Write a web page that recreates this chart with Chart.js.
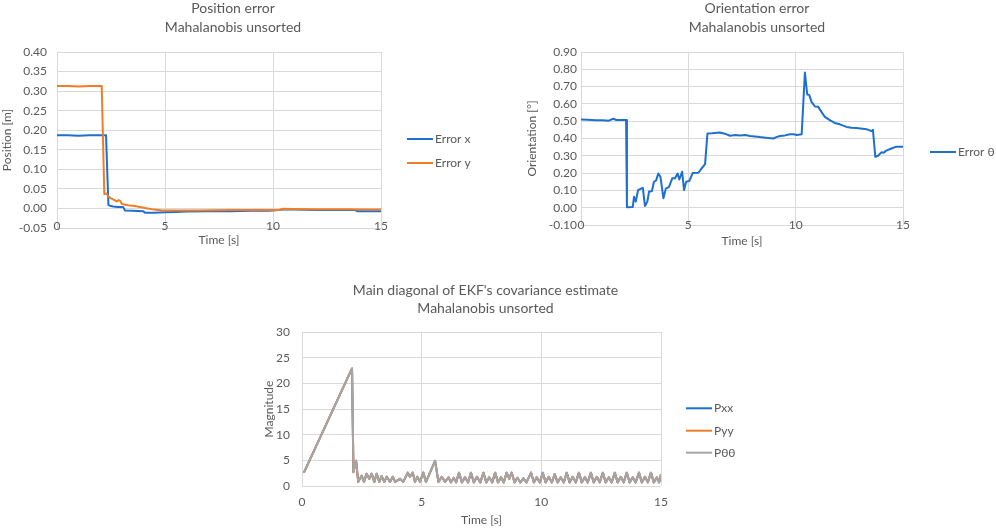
<!DOCTYPE html>
<html>
<head>
<meta charset="utf-8">
<title>Mahalanobis unsorted</title>
<script src="https://cdn.jsdelivr.net/npm/chart.js@4.4.1/dist/chart.umd.min.js"></script>
<style>
  html, body { margin: 0; padding: 0; background: #fff; }
  body { width: 996px; height: 528px; position: relative; overflow: hidden; }
  canvas { position: absolute; }
</style>
</head>
<body>
<canvas id="posChart" width="490" height="260" style="left:0;top:0"></canvas>
<canvas id="oriChart" width="496" height="260" style="left:500px;top:0"></canvas>
<canvas id="covChart" width="520" height="258" style="left:240px;top:270px"></canvas>
<script>
// Position error [m]
const errXTime = [0, 0.5, 1.0, 1.5, 2.0, 2.27, 2.38, 2.45, 2.6, 2.8, 3.06, 3.15, 3.5, 4.0, 4.07, 4.5, 5.0, 5.5, 6.0, 7.0, 8.0, 9.0, 9.77, 10.0, 10.5, 11.0, 12.0, 13.0, 13.8, 13.9, 14.5, 15.0];
const errX     = [0.187, 0.187, 0.186, 0.187, 0.187, 0.187, 0.009, 0.007, 0.005, 0.004, 0.004, -0.005, -0.006, -0.007, -0.011, -0.011, -0.010, -0.009, -0.008, -0.007, -0.007, -0.006, -0.006, -0.005, -0.003, -0.003, -0.004, -0.004, -0.004, -0.007, -0.007, -0.007];

const errYTime = [0, 0.5, 1.0, 1.5, 2.0, 2.07, 2.19, 2.3, 2.38, 2.5, 2.65, 2.76, 2.85, 2.92, 3.0, 3.1, 3.3, 3.6, 3.9, 4.07, 4.5, 4.9, 5.5, 6.5, 8.0, 9.5, 10.3, 10.45, 11.5, 12.5, 13.5, 14.0, 15.0];
const errY     = [0.313, 0.313, 0.312, 0.313, 0.313, 0.313, 0.037, 0.038, 0.030, 0.026, 0.022, 0.018, 0.021, 0.020, 0.012, 0.010, 0.008, 0.006, 0.003, 0.001, -0.003, -0.005, -0.005, -0.005, -0.004, -0.004, -0.004, -0.001, -0.002, -0.002, -0.002, -0.003, -0.003];

// Orientation error [°]
const thetaTime = [
  0.00, 0.30, 0.70, 1.00, 1.30, 1.50, 1.65, 2.10, 2.14, 2.41,
  2.47, 2.55, 2.66, 2.82, 2.88, 2.98, 3.09, 3.17, 3.30, 3.40,
  3.50, 3.60, 3.70, 3.84, 3.95, 4.10, 4.25, 4.38, 4.50, 4.58,
  4.71, 4.80, 4.90, 5.05, 5.20, 5.47, 5.62, 5.78, 5.89, 6.10,
  6.47, 6.70, 6.94, 7.20, 7.41, 7.65, 7.87, 8.10, 8.34, 8.60,
  8.96, 9.10, 9.27, 9.50, 9.74, 9.90, 10.05, 10.28, 10.43, 10.54,
  10.63, 10.74, 10.90, 11.05, 11.20, 11.36, 11.59, 11.82, 12.06, 12.37,
  12.60, 12.83, 13.30, 13.53, 13.60, 13.71, 13.84, 13.99, 14.10, 14.22,
  14.46, 14.69, 15.00
];
const thetaErr = [
  0.510, 0.508, 0.505, 0.505, 0.503, 0.514, 0.507, 0.507, 0.002, 0.004,
  0.063, 0.035, 0.102, 0.112, 0.115, 0.010, 0.035, 0.093, 0.095, 0.150,
  0.158, 0.198, 0.179, 0.054, 0.110, 0.120, 0.170, 0.170, 0.198, 0.163,
  0.208, 0.102, 0.150, 0.155, 0.200, 0.202, 0.227, 0.252, 0.429, 0.430,
  0.435, 0.428, 0.416, 0.420, 0.418, 0.420, 0.414, 0.412, 0.408, 0.405,
  0.400, 0.408, 0.414, 0.418, 0.425, 0.424, 0.420, 0.425, 0.781, 0.654,
  0.652, 0.612, 0.585, 0.583, 0.554, 0.525, 0.506, 0.490, 0.482, 0.467,
  0.462, 0.461, 0.454, 0.443, 0.450, 0.294, 0.300, 0.320, 0.318, 0.330,
  0.342, 0.353, 0.353
];

// EKF covariance diagonal
const covTime = [
  0.08, 2.09, 2.15, 2.26, 2.35, 2.49, 2.59, 2.70, 2.81, 2.91,
  3.02, 3.12, 3.23, 3.33, 3.44, 3.54, 3.68, 3.79, 3.89, 4.09,
  4.23, 4.42, 4.51, 4.63, 4.72, 4.82, 4.93, 5.07, 5.18, 5.56,
  5.70, 5.84, 5.98, 6.12, 6.22, 6.34, 6.44, 6.56, 6.68, 6.81,
  6.94, 7.06, 7.18, 7.31, 7.45, 7.58, 7.70, 7.82, 7.95, 8.07,
  8.19, 8.31, 8.43, 8.55, 8.66, 8.76, 8.88, 9.00, 9.12, 9.25,
  9.38, 9.57, 9.69, 9.81, 9.94, 10.06, 10.18, 10.31, 10.44, 10.56,
  10.68, 10.81, 10.94, 11.06, 11.18, 11.31, 11.44, 11.57, 11.69, 11.82,
  11.94, 12.07, 12.19, 12.32, 12.44, 12.57, 12.69, 12.82, 12.94, 13.07,
  13.19, 13.32, 13.44, 13.57, 13.69, 13.82, 13.94, 14.08, 14.20, 14.33,
  14.45, 14.58, 14.70, 14.83, 14.92, 15.00
];
const pTheta = [
  2.6, 22.9, 2.7, 4.9, 0.8, 2.0, 0.8, 2.4, 1.4, 2.4,
  0.8, 2.4, 0.8, 1.9, 0.8, 1.8, 0.8, 1.8, 0.8, 1.4,
  0.8, 2.6, 1.8, 2.6, 0.8, 1.8, 0.8, 2.6, 0.8, 4.9,
  0.8, 1.8, 0.8, 1.7, 0.7, 1.6, 0.7, 2.6, 0.7, 1.7,
  0.7, 2.6, 0.7, 1.8, 0.7, 2.6, 0.7, 1.7, 0.7, 2.6,
  0.7, 1.7, 0.7, 2.6, 1.4, 2.6, 0.7, 1.6, 0.7, 1.5,
  0.7, 2.6, 0.7, 1.7, 0.7, 2.6, 0.7, 1.8, 0.7, 2.3,
  0.7, 1.7, 0.7, 2.6, 0.7, 1.8, 0.7, 2.6, 0.7, 1.7,
  0.7, 2.6, 0.7, 1.8, 0.7, 2.6, 0.7, 1.7, 0.7, 2.6,
  0.7, 1.8, 0.7, 2.6, 0.7, 1.7, 0.7, 2.6, 0.7, 1.8,
  0.7, 2.6, 0.7, 1.7, 0.7, 2.3
];
// Pxx and Pyy are hidden under the grey Pθθ line in the original
const pXX = pTheta;
const pYY = pTheta;

const timeTicks = { min: 0, max: 15, step: 5 };

const BLUE = '#1f6fd0';
const ORANGE = '#f07d26';
const GRAY = '#a5a5a5';
const TEXT = '#595959';
const GRID = '#d9d9d9';

Chart.defaults.font.family = 'Lato, "Open Sans", sans-serif';
Chart.defaults.font.size = 12;
Chart.defaults.color = TEXT;

function points(times, values) {
    return times.map((t, i) => ({ x: t, y: values[i] }));
}

function lineSet(label, color, times, values, order) {
    return {
        label: label,
        data: points(times, values),
        borderColor: color,
        backgroundColor: color,
        borderWidth: 2,
        pointRadius: 0,
        tension: 0,
        borderJoinStyle: 'round',
        order: order,
    };
}

// two-line title and the right-hand legend, placed like the Excel original
const decor = {
    id: 'decor',
    afterDraw(chart, args, opts) {
        const ctx = chart.ctx;
        ctx.save();
        ctx.fillStyle = TEXT;
        ctx.textBaseline = 'middle';
        ctx.textAlign = 'center';
        ctx.font = '14px Lato, "Open Sans", sans-serif';
        opts.title.forEach((line, i) => ctx.fillText(line, opts.titleX, opts.titleY[i]));

        ctx.font = '12px Lato, "Open Sans", sans-serif';
        ctx.textAlign = 'left';
        chart.data.datasets.forEach((ds, i) => {
            const y = opts.legendY[i];
            ctx.strokeStyle = ds.borderColor;
            ctx.lineWidth = 2;
            ctx.beginPath();
            ctx.moveTo(opts.legendX, y);
            ctx.lineTo(opts.legendX + 26, y);
            ctx.stroke();
            ctx.fillText(ds.label, opts.legendX + 28, y);
        });
        ctx.restore();
    }
};

function makeChart(id, box, datasets, yAxis, deco) {
    return new Chart(document.getElementById(id), {
        type: 'line',
        data: { datasets: datasets },
        plugins: [decor],
        options: {
            responsive: false,
            animation: false,
            layout: { padding: { top: box.top, right: box.right, bottom: 0, left: 0 } },
            plugins: {
                legend: { display: false },
                title: { display: false },
                tooltip: { enabled: false },
                decor: deco,
            },
            scales: {
                x: {
                    type: 'linear',
                    min: timeTicks.min,
                    max: timeTicks.max,
                    // top charts: Excel puts the time labels right on the bottom gridline
                    ticks: { stepSize: timeTicks.step, padding: box.xPad, mirror: box.xMirror },
                    grid: { color: GRID, drawTicks: false },
                    border: { display: false },
                    title: { display: true, text: 'Time [s]', padding: { top: 0, bottom: box.xTitlePad } },
                    afterFit: s => { s.height = box.xHeight; },
                },
                y: {
                    type: 'linear',
                    min: yAxis.min,
                    max: yAxis.max,
                    ticks: { stepSize: yAxis.step, padding: box.yPad, autoSkip: false, callback: yAxis.format },
                    grid: { color: GRID, drawTicks: false },
                    border: { display: false },
                    title: { display: true, text: yAxis.title, padding: { top: box.yTitlePad, bottom: 0 } },
                    afterFit: s => { s.width = box.left; },
                },
            },
        },
    });
}

makeChart('posChart',
    { top: 52, right: 109, left: 57, xHeight: 32, xPad: -5, xMirror: true, xTitlePad: 12.8, yPad: 10, yTitlePad: 0 },
    [
        lineSet('Error x', BLUE, errXTime, errX, 1),
        lineSet('Error y', ORANGE, errYTime, errY, 0),
    ],
    { min: -0.05, max: 0.40, step: 0.05, title: 'Position [m]', format: v => v.toFixed(2) },
    { title: ['Position error', 'Mahalanobis unsorted'], titleX: 233, titleY: [8, 27], legendX: 407, legendY: [139, 163] }
);

makeChart('oriChart',
    { top: 52, right: 93, left: 81, xHeight: 35, xPad: -7, xMirror: true, xTitlePad: 12.1, yPad: 4, yTitlePad: 24.5 },
    [
        lineSet('Error θ', BLUE, thetaTime, thetaErr, 0),
    ],
    { min: -0.10, max: 0.90, step: 0.10, title: 'Orientation [°]', format: v => v.toFixed(2) },
    { title: ['Orientation error', 'Mahalanobis unsorted'], titleX: 257, titleY: [8, 27], legendX: 430, legendY: [152] }
);

makeChart('covChart',
    { top: 62, right: 99, left: 62, xHeight: 42, xPad: 8.5, xMirror: false, xTitlePad: 0.8, yPad: 12, yTitlePad: 22.1 },
    [
        lineSet('Pxx', BLUE, covTime, pXX, 2),
        lineSet('Pyy', ORANGE, covTime, pYY, 1),
        lineSet('Pθθ', GRAY, covTime, pTheta, 0),
    ],
    { min: 0, max: 30, step: 5, title: 'Magnitude', format: v => v },
    { title: ["Main diagonal of EKF's covariance estimate", 'Mahalanobis unsorted'], titleX: 245.5, titleY: [20, 38.3], legendX: 446, legendY: [138.3, 160.7, 182.7] }
);
</script>
</body>
</html>
